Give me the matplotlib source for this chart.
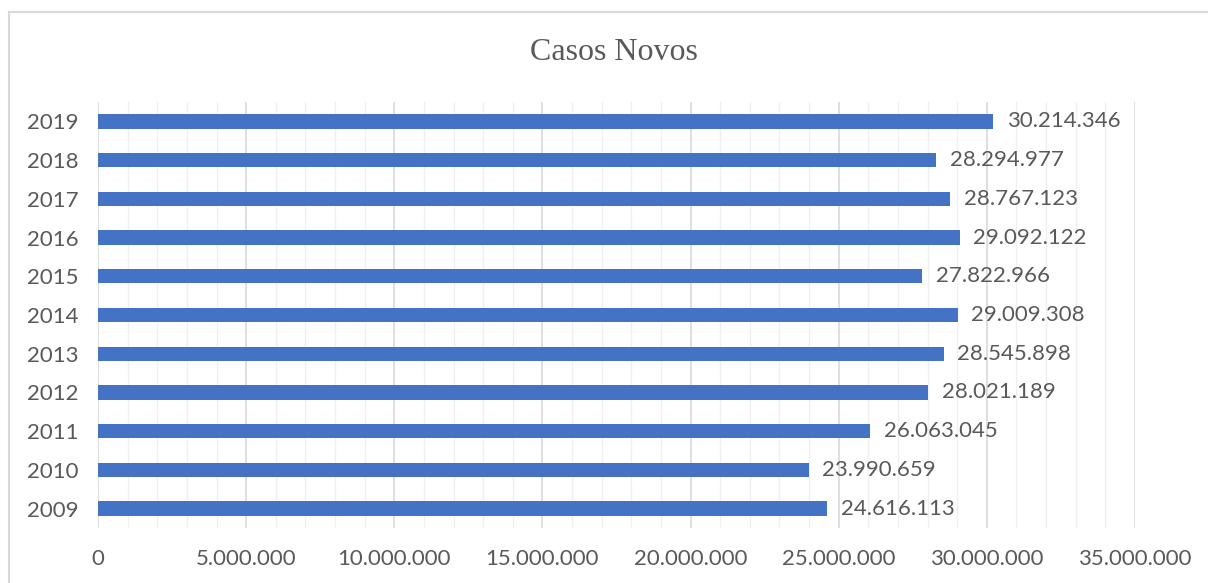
import matplotlib
matplotlib.use("Agg")
import matplotlib.pyplot as plt
from matplotlib.lines import Line2D
from matplotlib.ticker import MultipleLocator, FuncFormatter

years = ["2009", "2010", "2011", "2012", "2013", "2014", "2015", "2016", "2017", "2018", "2019"]
values = [24616113, 23990659, 26063045, 28021189, 28545898, 29009308,
          27822966, 29092122, 28767123, 28294977, 30214346]
title = "Casos Novos"

def fmt(v):
    return f"{int(v):,}".replace(",", ".")

fig = plt.figure(figsize=(12.08, 5.83), dpi=100)
ax = fig.add_axes([98/1208, 1-528/583, (1135-98)/1208, (528-102)/583])

bar_color = "#4472C4"
text_color = "#595959"
sans = ["Lato", "DejaVu Sans"]

y = list(range(len(years)))
ax.barh(y, values, height=0.37, color=bar_color, zorder=3)
for yi, v in zip(y, values):
    ax.text(v + 450000, yi, fmt(v), va="center", ha="left", fontsize=16,
            color=text_color, family=sans, zorder=4)

ax.set_xlim(0, 35000000)
ax.set_ylim(-0.5, len(years) - 0.5)
ax.set_yticks(y)
ax.set_yticklabels(years)
ax.xaxis.set_major_locator(MultipleLocator(5000000))
ax.xaxis.set_minor_locator(MultipleLocator(1000000))
ax.xaxis.set_major_formatter(FuncFormatter(lambda v, p: fmt(v)))
ax.grid(axis="x", which="major", color="#d9d9d9", linewidth=1.2, zorder=0)
ax.grid(axis="x", which="minor", color="#f0f0f0", linewidth=1.0, zorder=0)
for s in ax.spines.values():
    s.set_visible(False)
ax.tick_params(axis="both", which="both", length=0, colors=text_color, labelsize=16)
ax.tick_params(axis="x", pad=15)
ax.tick_params(axis="y", pad=14)
for lab in ax.get_xticklabels() + ax.get_yticklabels():
    lab.set_family(sans)

fig.text(614/1208, 1-53/583, title, ha="center", va="center", fontsize=23,
         family=["Liberation Serif", "DejaVu Serif"], color=text_color)

# outer chart border (left and top visible)
fig.add_artist(Line2D([9/1208, 9/1208], [0, 1-12/583], transform=fig.transFigure,
                      color="#d9d9d9", linewidth=1.5))
fig.add_artist(Line2D([9/1208, 1], [1-12/583, 1-12/583], transform=fig.transFigure,
                      color="#d9d9d9", linewidth=1.5))

fig.savefig("out.png", dpi=100)
